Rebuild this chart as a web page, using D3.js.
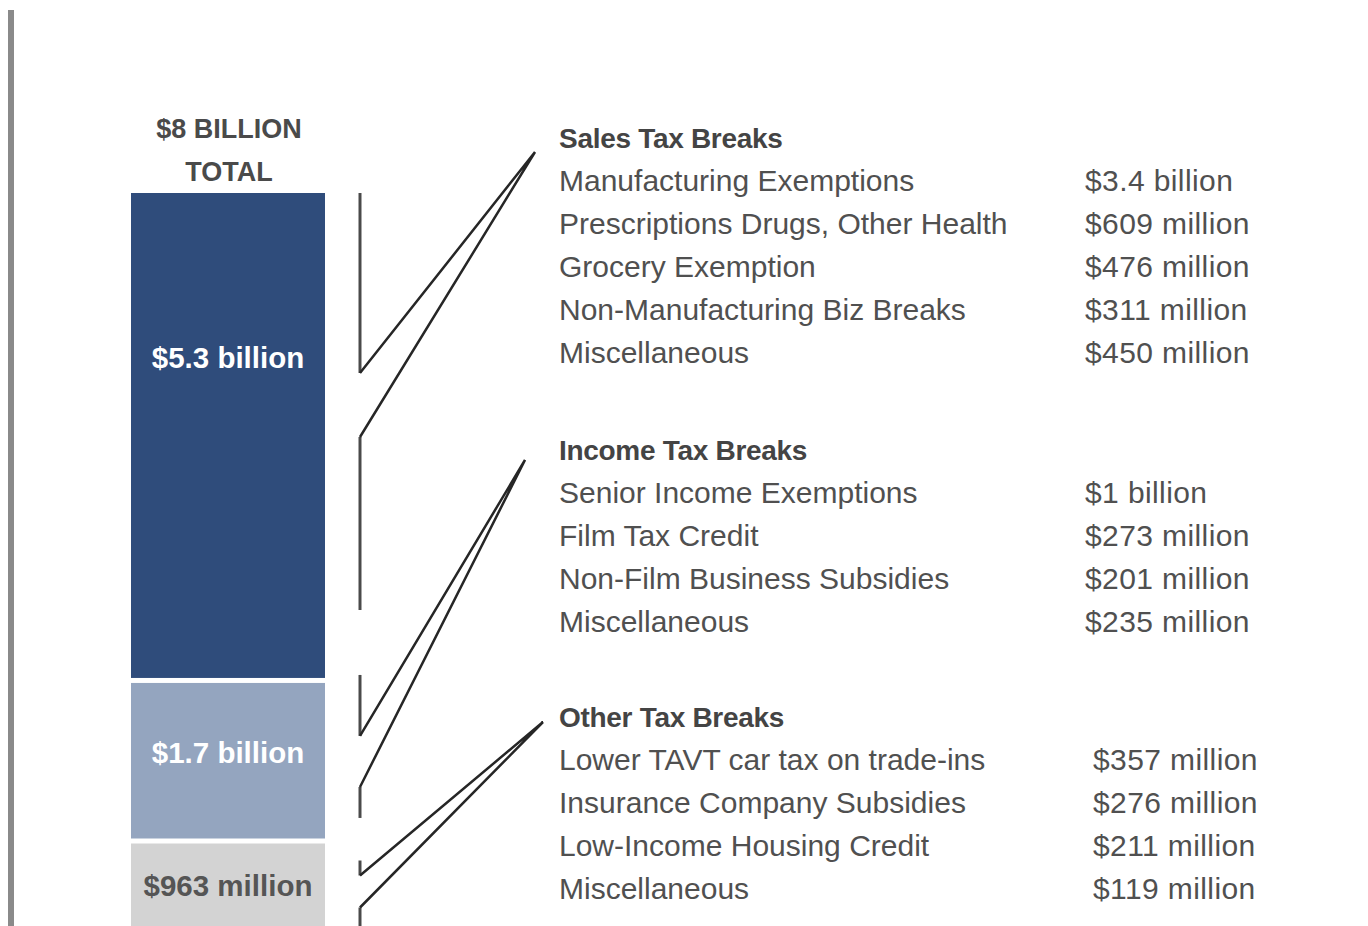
<!DOCTYPE html>
<html>
<head>
<meta charset="utf-8">
<script src="https://cdn.jsdelivr.net/npm/d3@7"></script>
<style>
  html, body { margin: 0; padding: 0; background: #fff; }
  svg { display: block; }
</style>
</head>
<body>
<svg id="chart" width="1368" height="926"></svg>
<script>
// ---------- DATA ----------
const totalLabel = ["$8 BILLION", "TOTAL"];
const segmentNames = ["Sales Tax Breaks", "Income Tax Breaks", "Other Tax Breaks"];
const segmentValues = [5.3, 1.7, 0.963];            // billions
const segmentLabels = ["$5.3 billion", "$1.7 billion", "$963 million"];

const salesItems  = ["Manufacturing Exemptions", "Prescriptions Drugs, Other Health", "Grocery Exemption", "Non-Manufacturing Biz Breaks", "Miscellaneous"];
const salesValues = ["$3.4 billion", "$609 million", "$476 million", "$311 million", "$450 million"];
const incomeItems  = ["Senior Income Exemptions", "Film Tax Credit", "Non-Film Business Subsidies", "Miscellaneous"];
const incomeValues = ["$1 billion", "$273 million", "$201 million", "$235 million"];
const otherItems  = ["Lower TAVT car tax on trade-ins", "Insurance Company Subsidies", "Low-Income Housing Credit", "Miscellaneous"];
const otherValues = ["$357 million", "$276 million", "$211 million", "$119 million"];

// ---------- LAYOUT / STYLE ----------
const W = 1368, H = 926;
const barX = 131, barW = 194, barTop = 193, gap = 5;
const pxPerBillion = 91.5;
const segColors = ["#2f4c7b", "#94a5bf", "#d3d3d3"];
const segTextColors = ["#ffffff", "#ffffff", "#555555"];
const segLabelFrac = [0.34, 0.45, 0.48];
const groupBaselines = [148, 460, 727];
const rowStep = 43;
const textX = 559;
const valueX = [1085, 1085, 1093];
const apexX = [535, 525, 543];
// bracket break offsets relative to segment top: [start, break1, break2, end]
const bracketOffsets = [[0, 180, 244, 417], [-8, 53, 104, 135], [17, 32, 64, 95]];
const bracketX = 360;
const fontFamily = "'Liberation Sans', Arial, sans-serif";

const svg = d3.select("#chart");
svg.append("rect").attr("width", W).attr("height", H).attr("fill", "#fff");

// left frame line
svg.append("rect").attr("x", 8).attr("y", 10).attr("width", 6).attr("height", H - 10).attr("fill", "#8a8a8a");

// scale
const total = d3.sum(segmentValues);
const y = d3.scaleLinear().domain([0, total]).range([barTop, barTop + total * pxPerBillion]);
const starts = segmentValues.map((v, i) => d3.sum(segmentValues.slice(0, i)));
const segs = segmentValues.map((v, i) => ({
  i, v, label: segmentLabels[i],
  top: y(starts[i]) + i * gap,
  bottom: y(starts[i] + v) + i * gap
}));

// bar segments
svg.selectAll("rect.seg").data(segs).join("rect")
  .attr("class", "seg")
  .attr("x", barX).attr("width", barW)
  .attr("y", d => d.top).attr("height", d => d.bottom - d.top)
  .attr("fill", d => segColors[d.i]);

svg.selectAll("text.seglabel").data(segs).join("text")
  .attr("class", "seglabel")
  .attr("x", barX + barW / 2)
  .attr("y", d => d.top + (d.bottom - d.top) * segLabelFrac[d.i])
  .attr("dy", "0.35em")
  .attr("text-anchor", "middle")
  .attr("font-family", fontFamily).attr("font-weight", "bold").attr("font-size", 29.5)
  .attr("fill", d => segTextColors[d.i])
  .text(d => d.label);

// total label
svg.selectAll("text.total").data(totalLabel).join("text")
  .attr("class", "total")
  .attr("x", barX + barW / 2 + 1)
  .attr("y", (d, i) => 138 + i * 43)
  .attr("text-anchor", "middle")
  .attr("font-family", fontFamily).attr("font-weight", "bold").attr("font-size", 27)
  .attr("fill", "#4a4a4a")
  .text(d => d);

// brackets
segs.forEach(d => {
  const o = bracketOffsets[d.i];
  const yy = o.map(v => Math.min(H + 5, d.top + v));
  const ax = apexX[d.i], ay = groupBaselines[d.i] + (d.i === 0 ? 4 : (d.i === 2 ? -5 : 0));
  svg.append("line").attr("x1", bracketX).attr("x2", bracketX).attr("y1", yy[0]).attr("y2", yy[1])
    .attr("stroke", "#4a4a4a").attr("stroke-width", 3);
  svg.append("line").attr("x1", bracketX).attr("x2", bracketX).attr("y1", yy[2]).attr("y2", yy[3])
    .attr("stroke", "#4a4a4a").attr("stroke-width", 3);
  svg.append("path")
    .attr("d", `M${bracketX},${yy[1]} L${ax},${ay} L${bracketX},${yy[2]}`)
    .attr("fill", "none").attr("stroke", "#262626").attr("stroke-width", 2.5)
    .attr("stroke-linejoin", "miter");
});

// lists
const groups = [
  { items: salesItems, values: salesValues },
  { items: incomeItems, values: incomeValues },
  { items: otherItems, values: otherValues }
];
groups.forEach((g, gi) => {
  const base = groupBaselines[gi];
  svg.append("text")
    .attr("x", textX).attr("y", base)
    .attr("font-family", fontFamily).attr("font-weight", "bold").attr("font-size", 28)
    .attr("fill", "#444").attr("letter-spacing", -0.3)
    .text(segmentNames[gi]);
  svg.selectAll(null).data(g.items).join("text")
    .attr("x", textX).attr("y", (d, i) => base + (i + 1) * rowStep)
    .attr("font-family", fontFamily).attr("font-size", 30)
    .attr("fill", "#505050")
    .text(d => d);
  svg.selectAll(null).data(g.values).join("text")
    .attr("x", valueX[gi]).attr("y", (d, i) => base + (i + 1) * rowStep)
    .attr("font-family", fontFamily).attr("font-size", 30)
    .attr("letter-spacing", 0.4)
    .attr("fill", "#505050")
    .text(d => d);
});
</script>
</body>
</html>
